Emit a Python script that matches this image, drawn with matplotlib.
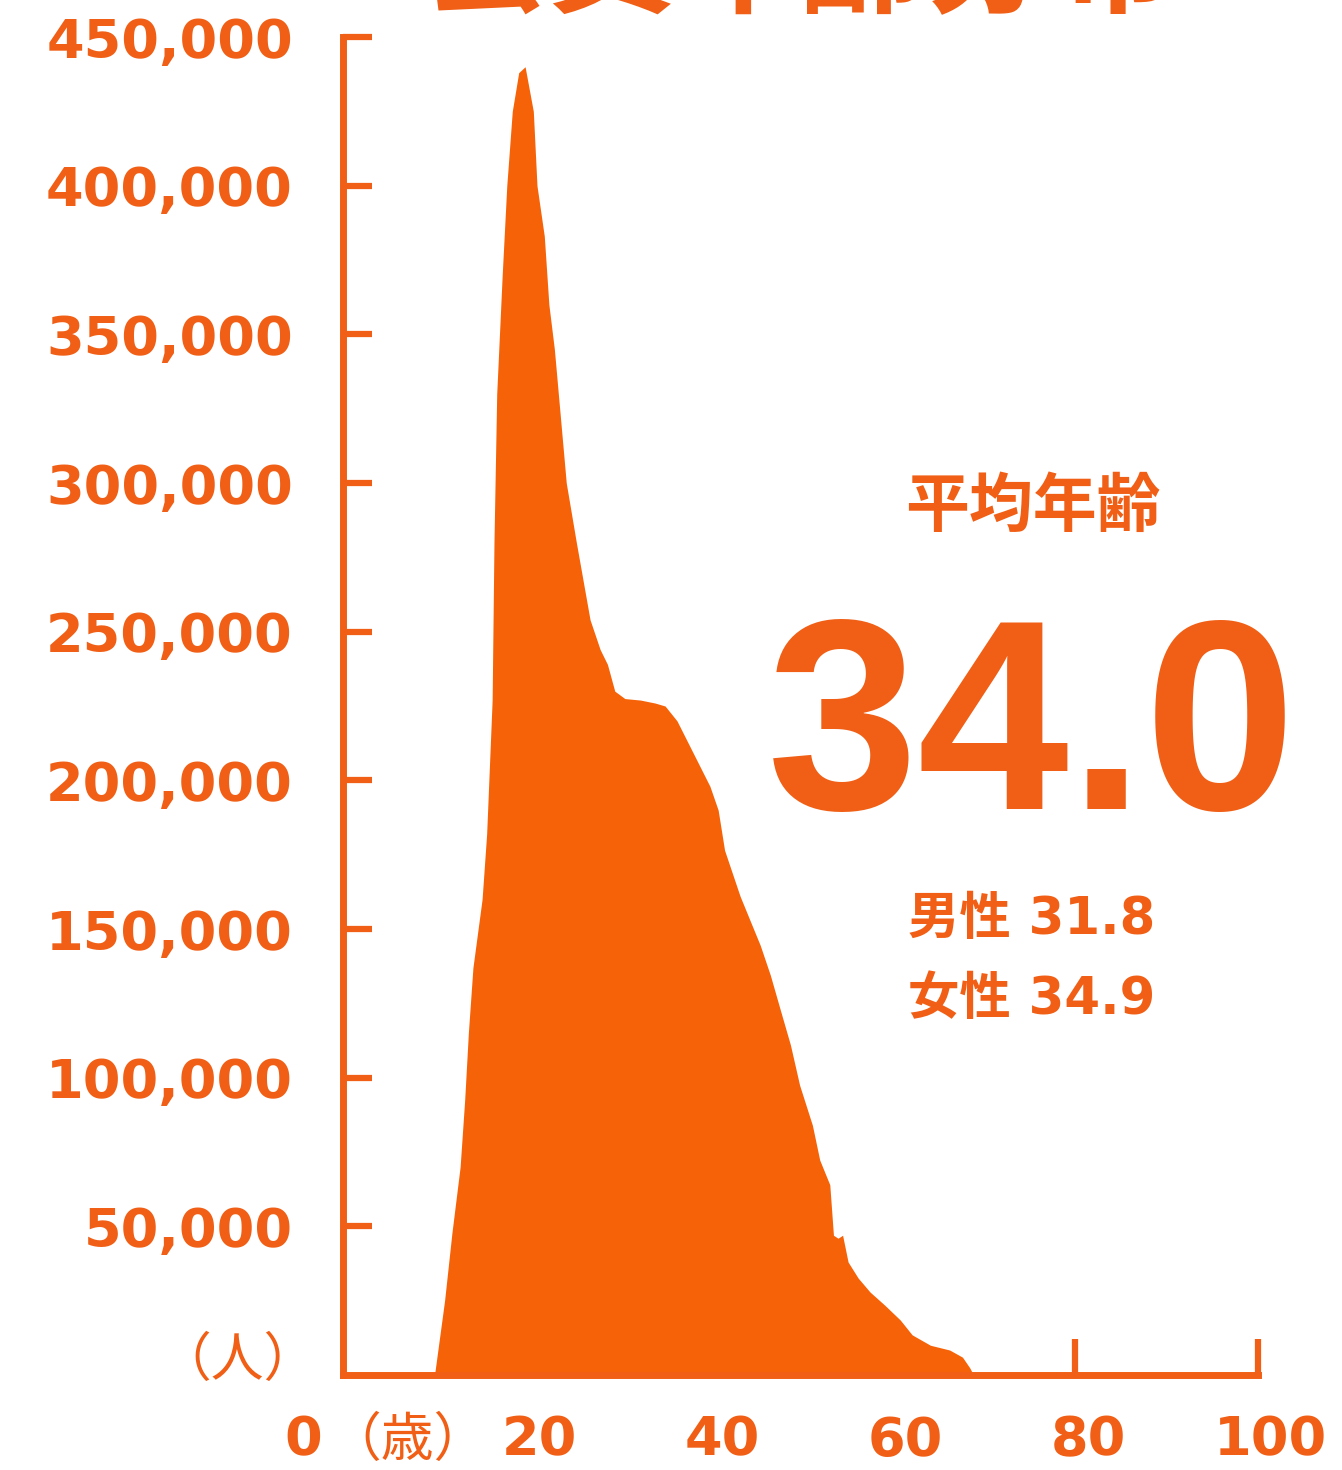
import matplotlib
matplotlib.use("Agg")
import matplotlib.pyplot as plt
import matplotlib.transforms as mtransforms

# age distribution (age in years, number of people)
ages = [10.0, 11.1, 11.9, 12.8, 13.3, 13.7, 14.2, 15.2, 15.7, 16.3, 16.5, 16.8,
        17.4, 17.9, 18.5, 19.2, 19.9, 20.8, 21.2, 22.0, 22.5, 23.1, 24.4, 25.5,
        27.0, 28.1, 28.9, 29.7, 30.8, 32.5, 34.1, 35.2, 36.5, 38.3, 40.1, 41.0,
        41.7, 43.4, 45.6, 46.7, 47.8, 48.9, 49.9, 51.3, 52.1, 53.2, 53.6, 54.1,
        54.6, 55.2, 56.3, 57.6, 59.2, 60.9, 62.2, 64.2, 66.3, 67.7, 68.5, 68.9]
people = [0, 25000, 47700, 70000, 92600, 115000, 137000, 160000, 182000, 227000,
          280000, 330000, 370000, 400000, 425000, 438000, 440000, 425000, 400000,
          383000, 360000, 345000, 300000, 280000, 254000, 244000, 239000, 230000,
          227500, 227000, 226000, 225000, 220000, 209000, 198000, 190000, 176500,
          161000, 144500, 134500, 122700, 111000, 97500, 84000, 72300, 64000,
          47000, 46000, 47000, 38000, 32600, 27900, 23500, 18500, 13500, 10000,
          8400, 6000, 2400, 0]

yticks = [50000, 100000, 150000, 200000, 250000, 300000, 350000, 400000, 450000]
xticks = [20, 40, 60, 80, 100]

title = "会員年齢分布"
avg_label = "平均年齢"
avg_all = "34.0"
avg_male = "男性 31.8"
avg_female = "女性 34.9"

orange = "#f05f15"
fill_orange = "#f66207"
num = ["DejaVu Sans", "Noto Sans CJK JP"]
big = ["Liberation Sans", "Noto Sans CJK JP"]
cjk = ["Noto Sans CJK JP", "DejaVu Sans"]
plt.rcParams["font.family"] = num

fig = plt.figure(figsize=(13.42, 14.7), dpi=100)
ax = fig.add_axes([343 / 1342, 1 - 1375 / 1470, 915 / 1342, 1338 / 1470])

ax.fill_between(ages, people, 0, color=fill_orange, lw=0, zorder=3)

ax.set_xlim(0, 100)
ax.set_ylim(0, 450000)
for s in ["top", "right"]:
    ax.spines[s].set_visible(False)
for s in ["left", "bottom"]:
    ax.spines[s].set_color(orange)
    ax.spines[s].set_linewidth(5)
    ax.spines[s].set_zorder(4)

ax.set_yticks(yticks)
ax.set_yticklabels([f"{v:,}" for v in yticks])
ax.tick_params(axis="y", direction="in", length=21, width=4.5, color=orange,
               labelcolor=orange, labelsize=39, pad=36)
for lab in ax.get_yticklabels():
    lab.set_fontweight("bold")

ax.set_xticks(xticks)
ax.tick_params(axis="x", direction="in", length=26, width=4.5, color=orange,
               labelbottom=False)

# x labels sit a little right of their ticks
shift = mtransforms.ScaledTranslation(13 / 100, 0, fig.dpi_scale_trans)
xt = ax.get_xaxis_transform() + shift
for v in xticks:
    ax.text(v, -0.049, str(v), transform=xt, ha="center", va="center",
            fontsize=39, fontweight="bold", color=orange)
ax.text(-0.043, -0.049, "0", transform=ax.transAxes, ha="center", va="center",
        fontsize=39, fontweight="bold", color=orange)
ax.text(0.07, -0.049, "（歳）", transform=ax.transAxes, ha="center", va="center",
        fontsize=38, family=cjk, color=orange)
ax.text(-0.029, 0.011, "（人）", transform=ax.transAxes, ha="right", va="center",
        fontsize=38, family=cjk, color=orange)

fig.text(800 / 1342, 1 - 3 / 1470, title, ha="center", va="baseline", fontsize=90,
         fontweight="bold", family=cjk, color=orange)

fig.text(1033 / 1342, 1 - 507 / 1470, avg_label, ha="center", va="center",
         fontsize=46, fontweight="bold", family=cjk, color=orange)
fig.text(1032 / 1342, 1 - 738 / 1470, avg_all, ha="center", va="center",
         fontsize=196, fontweight="bold", family=big, color=orange)
fig.text(1032 / 1342, 1 - 920 / 1470, avg_male, ha="center", va="center",
         fontsize=37, fontweight="bold", color=orange)
fig.text(1032 / 1342, 1 - 1000 / 1470, avg_female, ha="center", va="center",
         fontsize=37, fontweight="bold", color=orange)

fig.savefig("out.png", dpi=100, facecolor="white")
